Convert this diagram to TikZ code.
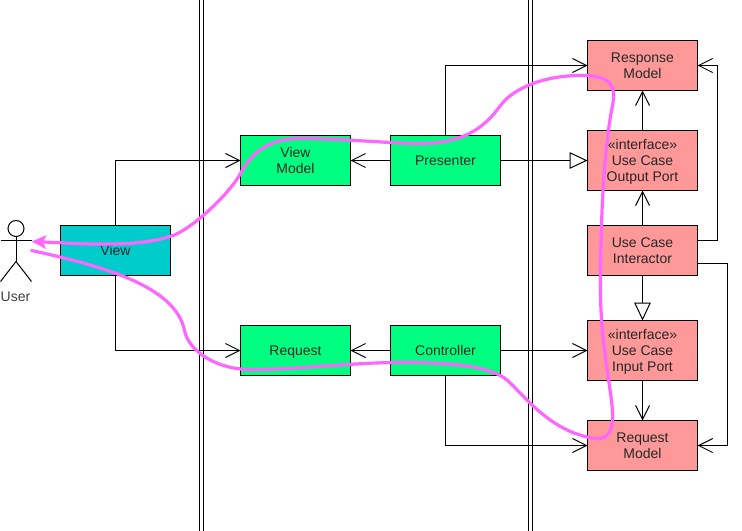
\documentclass[tikz,border=0pt]{standalone}
\usepackage{fontspec}
\setmainfont{Liberation Sans}
\usepackage{xcolor}
\usetikzlibrary{arrows.meta, positioning}
\definecolor{adaptergreen}{HTML}{00FF80}
\definecolor{viewteal}{HTML}{00CCCC}
\definecolor{usecasered}{HTML}{FF9999}
\definecolor{flowpink}{HTML}{FF66FF}

\begin{document}
\begin{tikzpicture}[
    x=0.75pt, y=-0.75pt,
    line width=0.75pt,
    every node/.style={align=center},
    box/.style={rectangle, minimum width=82.5pt, minimum height=37.5pt, inner sep=0pt, outer sep=0pt, text centered, text depth=-1pt, draw=black, text=black!85, font=\fontsize{10.5}{12}\selectfont},
    adapter/.style={box, fill=adaptergreen},
    usecase/.style={box, fill=usecasered},
    port/.style={usecase, minimum height=45pt},
    arrow/.style={-{Straight Barb[length=10.5pt,width=10.5pt,line width=0.75pt]}},
    realize/.style={-{Triangle[open,length=13.5pt,width=12.5pt,line width=0.75pt]}},
    userflow/.style={draw=flowpink, line width=2.4pt, line cap=round, -{Stealth[length=11pt,width=10pt,inset=2.5pt]}}
]
\useasboundingbox (-0.5,-0.5) rectangle (741.5,530.5);

% Layer boundaries
\foreach \x in {199,203,528,532}
    \draw (\x,0) -- (\x,531);

% User
\node (userhead) [circle, draw=black, fill=white, minimum size=12pt, inner sep=0pt, outer sep=0pt] at (15.5,228) {};
\coordinate (userhip) at (15.5,261);
\coordinate (userarmleft) at (0,240);
\coordinate (userarmright) at (31,240);
\coordinate (userfootleft) at (0,281);
\coordinate (userfootright) at (31,281);
\node (userlabel) [text=black!75, font=\fontsize{10.5}{12}\selectfont] at (15,296) {User};
\draw (userhead) -- (userhip);
\draw (userarmleft) -- (userarmright);
\draw (userfootleft) -- (userhip) -- (userfootright);

% Adapters
\node (view) [box, fill=viewteal] at (115,250) {View};
\node (viewmodel) [adapter] at (295,160) {View\\Model};
\node (presenter) [adapter, right=30pt of viewmodel] {Presenter};
\node (request) [adapter, below=105pt of viewmodel] {Request};
\node (controller) [adapter, right=30pt of request] {Controller};

% Use cases
\node (outputport) [port, right=65.25pt of presenter] {«interface»\\Use Case\\Output Port};
\node (responsemodel) [usecase, above=30pt of outputport] {Response\\Model};
\node (interactor) [usecase, below=26.25pt of outputport] {Use Case\\Interactor};
\node (inputport) [port, right=65.25pt of controller] {«interface»\\Use Case\\Input Port};
\node (requestmodel) [usecase, below=30pt of inputport] {Request\\Model};

% Arrows
\draw [arrow] (view) |- (viewmodel);
\draw [arrow] (view) |- (request);
\draw [arrow] (presenter) -- (viewmodel);
\draw [arrow] (controller) -- (request);
\draw [arrow] (presenter) |- (responsemodel);
\draw [realize] (presenter) -- (outputport);
\draw [arrow] (controller) -- (inputport);
\draw [arrow] (controller) |- (requestmodel);
\draw [arrow] (outputport) -- (responsemodel);
\draw [arrow] (interactor) -- (outputport);
\draw [realize] (interactor) -- (inputport);
\draw [arrow] (inputport) -- (requestmodel);
\draw [arrow] ([yshift=7.5pt]interactor.east) -- ++(20,0) |- (responsemodel);
\draw [arrow] ([yshift=-9.75pt]interactor.east) -- ++(30,0) |- (requestmodel);

% Flow of control
\draw [userflow] (31,250) .. controls (100,265) and (175,285) .. (184,330)
    .. controls (188,350) and (215,369) .. (250,369)
    .. controls (300,369) and (350,362) .. (400,362)
    .. controls (450,362) and (490,365) .. (507,380)
    .. controls (524,395) and (550,432) .. (595,438)
    .. controls (610,440) and (613,425) .. (612,410)
    .. controls (610,385) and (600,340) .. (600,290)
    .. controls (600,200) and (605,140) .. (612,105)
    .. controls (616,85) and (610,76) .. (585,75)
    .. controls (550,74) and (515,85) .. (500,105)
    .. controls (488,121) and (470,143) .. (420,143)
    .. controls (390,143) and (340,138) .. (300,138)
    .. controls (265,138) and (250,155) .. (240,173)
    .. controls (229,193) and (195,225) .. (175,234)
    .. controls (140,248) and (80,243) .. (31,241);

\end{tikzpicture}
\end{document}
